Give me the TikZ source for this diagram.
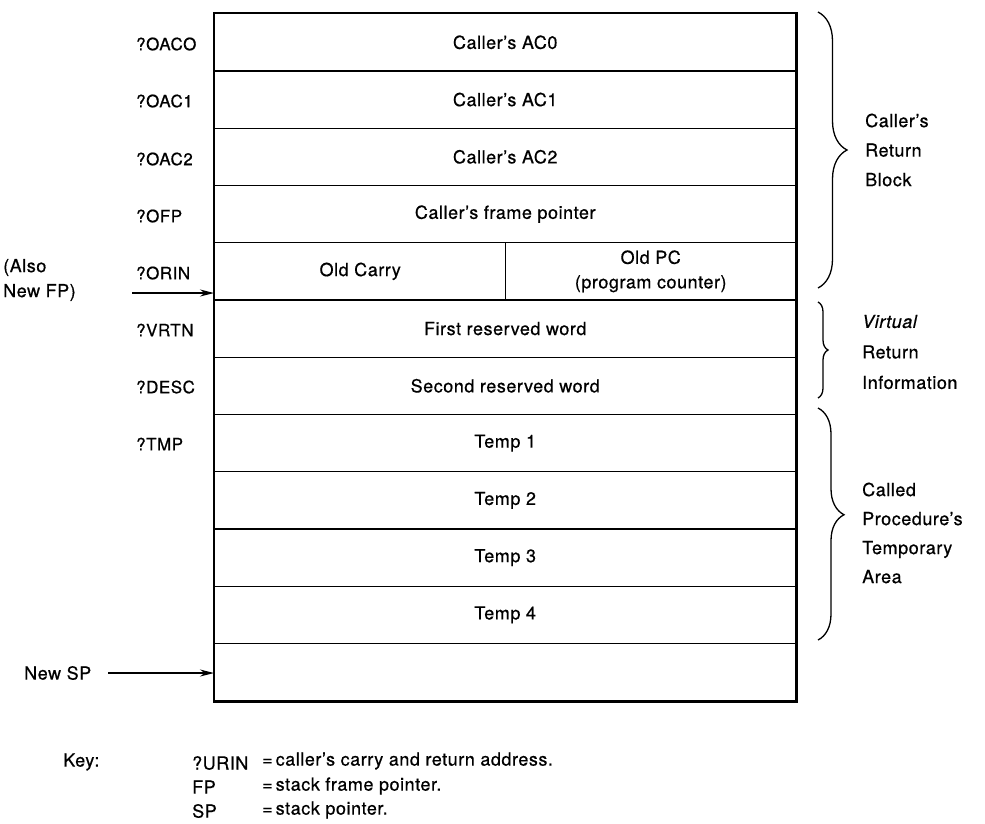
\documentclass[tikz,border=0pt]{standalone}
\usepackage{fontspec}
\setmainfont{TeX Gyre Heros}[LetterSpace=3, FakeBold=0.6]
\usetikzlibrary{arrows.meta,decorations.pathreplacing}
\begin{document}
\begin{tikzpicture}[x=1pt,y=-1pt,
  font=\fontsize{18}{21}\selectfont,
  row/.style={draw, line width=1.4pt, minimum width=581pt, minimum height=57.25pt, inner sep=0pt, anchor=north west},
  half/.style={draw, line width=1.4pt, minimum height=57.25pt, inner sep=0pt, anchor=north west, align=center},
  outer/.style={line width=2.4pt},
  lbl/.style={anchor=west, inner sep=0pt},
  tag/.style={anchor=west, inner sep=0pt, font=\fontsize{17}{20}\selectfont},
  side/.style={anchor=west, inner sep=0pt, align=left},
  arr/.style={-{Stealth[length=14pt,width=7pt]}, line width=1.3pt},
  br/.style={decorate, decoration={brace, amplitude=#1}, line width=1.3pt}]
\useasboundingbox (0,0) rectangle (985,823);
% rows
\node[row] (r1) at (214,13) {Caller's AC0};
\node[row] (r2) at (214,70.25) {Caller's AC1};
\node[row] (r3) at (214,127.5) {Caller's AC2};
\node[row] (r4) at (214,184.75) {Caller's frame pointer};
\node[half, minimum width=291pt] (r5a) at (214,242) {Old Carry};
\node[half, minimum width=290pt, font=\fontsize{18}{24.5}\selectfont] (r5b) at (505,242) {Old PC\\(program counter)};
\node[row] (r6) at (214,299.25) {First reserved word};
\node[row] (r7) at (214,356.5) {Second reserved word};
\node[row] (r8) at (214,413.75) {Temp 1};
\node[row] (r9) at (214,471) {Temp 2};
\node[row] (r10) at (214,528.25) {Temp 3};
\node[row] (r11) at (214,585.5) {Temp 4};
\node[row] (r12) at (214,642.75) {};
\draw[outer] (r1.north west) rectangle (r12.south east);
% left labels
\node[tag] (l1) at (136,44) {?OACO};
\node[tag] (l2) at (136,101) {?OAC1};
\node[tag] (l3) at (136,159) {?OAC2};
\node[tag] (l4) at (136,216) {?OFP};
\node[tag] (l5) at (136,273) {?ORIN};
\node[tag] (l6) at (136,330) {?VRTN};
\node[tag] (l7) at (136,387) {?DESC};
\node[tag] (l8) at (136,444) {?TMP};
% new FP
\node[lbl, align=left, font=\fontsize{18}{25}\selectfont] (nfp) at (3,280) {(Also\\New FP)};
\coordinate (fpstart) at (132,293);
\draw[arr] (fpstart) -- (fpstart -| r5a.west);
% new SP
\node[lbl] (nsp) at (24,673) {New SP};
\coordinate (spstart) at (108,673);
\draw[arr] (spstart) -- (spstart -| r12.west);
% braces
\coordinate (b1t) at (818,12);
\coordinate (b1b) at (818,288);
\coordinate (b2t) at (818,302);
\coordinate (b2b) at (818,398);
\coordinate (b3t) at (818,408);
\coordinate (b3b) at (818,640);
\draw[br=29] (b1t) -- (b1b);
\draw[br=10] (b2t) -- (b2b);
\draw[br=26, decoration={aspect=0.46}] (b3t) -- (b3b);
\node[side, font=\fontsize{18}{29.5}\selectfont] (s1) at (865,150) {Caller's\\Return\\Block};
\node[side, font=\fontsize{18}{30.5}\selectfont] (s2) at (862,352) {{\itshape Virtual}\\Return\\Information};
\node[side, font=\fontsize{18}{29}\selectfont] (s3) at (862,533) {Called\\Procedure's\\Temporary\\Area};
% key
\node[lbl] (key) at (63,762) {Key:};
\node[lbl] (k1) at (192,763) {?URIN};
\node[lbl] (k2) at (192,787) {FP};
\node[lbl] (k3) at (192,811) {SP};
\node[lbl] (d1) at (262,761) {=\,caller's carry and return address.};
\node[lbl] (d2) at (262,786) {=\,stack frame pointer.};
\node[lbl] (d3) at (262,810) {=\,stack pointer.};
\end{tikzpicture}
\end{document}
